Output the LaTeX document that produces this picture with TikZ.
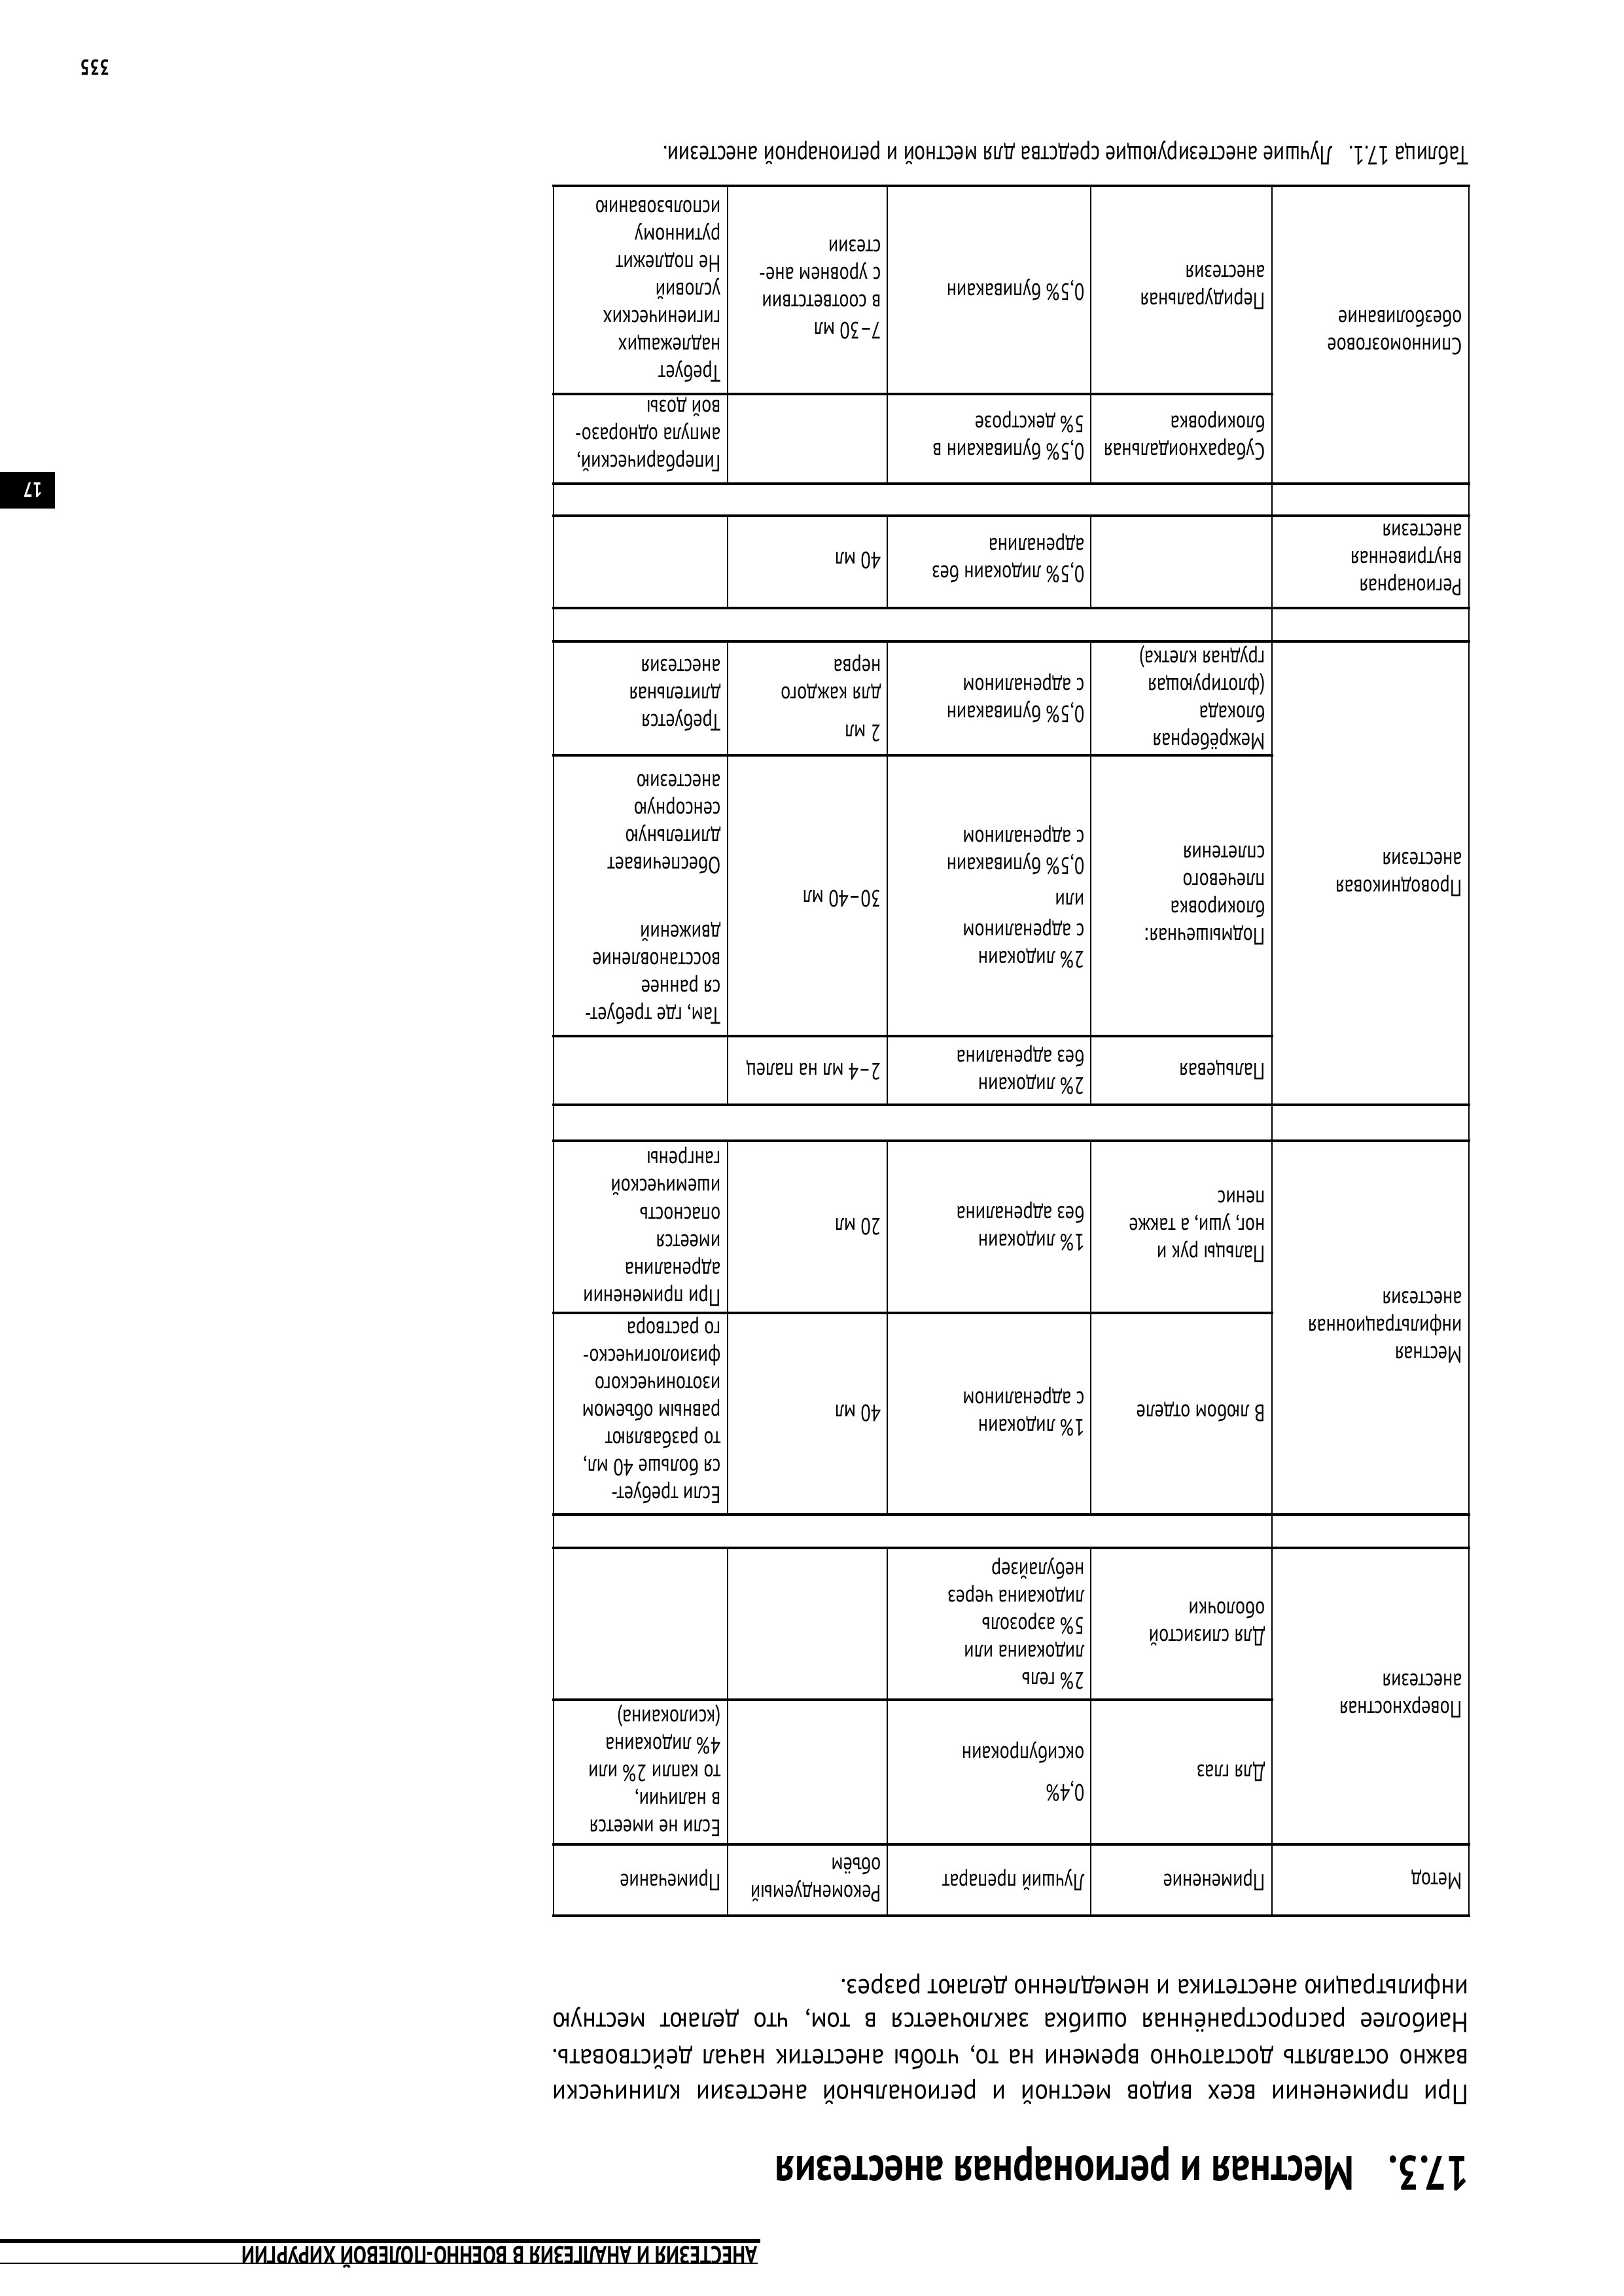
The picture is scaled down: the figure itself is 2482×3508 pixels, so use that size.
\documentclass[tikz,border=0pt]{standalone}
\usepackage{fontspec}
\setmainfont{PT Sans}[FakeStretch=0.78]
\newfontfamily\parafam{PT Sans}[FakeStretch=0.9]
\newfontfamily\headfam{PT Sans}[FakeStretch=0.8]
\newcommand\tbl{\fontsize{10.25pt}{11.95pt}\selectfont}
\newcommand\capfont{\fontsize{11.5pt}{13pt}\selectfont}
\newcommand\parafont{\parafam\fontsize{12.2pt}{15.4pt}\selectfont}
\newcommand\headfont{\headfam\fontsize{21pt}{24pt}\selectfont\bfseries}
\newcommand\runfont{\headfam\fontsize{10.7pt}{12pt}\selectfont\bfseries}
\begin{document}
\begin{tikzpicture}[x=0.01cm,y=-0.01cm,
  cell/.style={rotate=180,anchor=west,align=left,inner sep=0pt,font=\tbl},
  hline/.style={line width=0.035cm,line cap=rect},
  vline/.style={line width=0.022cm},
  pline/.style={rotate=180,anchor=mid west,inner sep=0pt,font=\parafont}]
\fill[white] (0,0) rectangle (2482,3508);
\path[use as bounding box] (0,0) rectangle (2482,3508);

% ---- table grid
\foreach \yy in {284,739,788,929,980,1688,1743,2314,2365,2818,2927}
  \draw[hline] (846,\yy) -- (2245,\yy);
\foreach \yy in {602,1154,1583,2006,2597}
  \draw[hline] (846,\yy) -- (1944,\yy);
\foreach \xx in {846,1944,2245}
  \draw[vline] (\xx,284) -- (\xx,2927);
\foreach \xx in {1112,1356,1667}
  \foreach \a/\b in {284/739,788/929,980/1688,1743/2314,2365/2927}
    \draw[vline] (\xx,\a) -- (\xx,\b);

% ---- header row
\node[cell] (h1) at (2235,2872) {Метод};
\node[cell] (h2) at (1934,2872) {Применение};
\node[cell] (h3) at (1658,2872) {Лучший препарат};
\node[cell] (h4) at (1347,2872) {Рекомендуемый\\объём};
\node[cell] (h5) at (1102,2872) {Примечание};

% ---- surface
\node[cell] (m1) at (2235,2591) {Поверхностная\\анестезия};
\node[cell] (a1) at (1934,2707) {Для глаз};
\node[cell] (b1) at (1658,2707) {0,4\%\\[0.16cm]оксибупрокаин};
\node[cell] (n1) at (1102,2705) {Если не имеется\\в наличии,\\то капли 2\% или\\4\% лидокаина\\(ксилокаина)};
\node[cell] (a2) at (1934,2481) {Для слизистой\\оболочки};
\node[cell] (b2) at (1658,2481) {2\% гель\\лидокаина или\\5\% аэрозоль\\лидокаина через\\небулайзер};

% ---- infiltration
\node[cell] (m2) at (2235,2028) {Местная\\инфильтрационная\\анестезия};
\node[cell] (a3) at (1934,2157) {В любом отделе};
\node[cell] (b3) at (1658,2157) {1\% лидокаин\\с адреналином};
\node[cell] (v3) at (1347,2159) {40 мл};
\node[cell] (n3) at (1102,2155) {Если требует-\\ся больше 40 мл,\\то разбавляют\\равным объемом\\изотонического\\физиологическо-\\го раствора};
\node[cell] (a4) at (1934,1874) {Пальцы рук и\\ног, уши, а также\\пенис};
\node[cell] (b4) at (1658,1874) {1\% лидокаин\\без адреналина};
\node[cell] (v4) at (1347,1874) {20 мл};
\node[cell] (n4) at (1102,1874) {При применении\\адреналина\\имеется\\опасность\\ишемической\\гангрены};

% ---- conduction
\node[cell] (m3) at (2235,1336) {Проводниковая\\анестезия};
\node[cell] (a5) at (1934,1635) {Пальцевая};
\node[cell] (b5) at (1658,1635) {2\% лидокаин\\без адреналина};
\node[cell] (v5) at (1347,1635) {2–4 мл на палец};
\node[cell] (a6) at (1934,1368) {Подмышечная:\\блокировка\\плечевого\\сплетения};
\node[cell] (b6) at (1658,1370) {2\% лидокаин\\с адреналином\\[0.05cm]или\\[0.12cm]0,5\% бупивакаин\\с адреналином};
\node[cell] (v6) at (1347,1373) {30–40 мл};
\node[cell] (n6) at (1102,1374) {Там, где требует-\\ся раннее\\восстановление\\движений\\[0.62cm]Обеспечивает\\длительную\\сенсорную\\анестезию};
\node[cell] (a7) at (1934,1067) {Межрёберная\\блокада\\(флотирующая\\грудная клетка)};
\node[cell] (b7) at (1658,1067) {0,5\% бупивакаин\\с адреналином};
\node[cell] (v7) at (1347,1067) {2 мл\\[0.16cm]для каждого\\нерва};
\node[cell] (n7) at (1102,1062) {Требуется\\длительная\\анестезия};

% ---- regional IV
\node[cell] (m4) at (2235,855) {Регионарная\\внутривенная\\анестезия};
\node[cell] (b8) at (1658,853) {0,5\% лидокаин без\\адреналина};
\node[cell] (v8) at (1347,856) {40 мл};

% ---- spinal
\node[cell] (m5) at (2235,508) {Спинномозговое\\обезболивание};
\node[cell] (a9) at (1934,666) {Субарахноидальная\\блокировка};
\node[cell] (b9) at (1658,666) {0,5\% бупивакаин в\\5\% декстрозе};
\node[cell] (n9) at (1102,664) {Гипербарический,\\ампула одноразо-\\вой дозы};
\node[cell] (a10) at (1934,439) {Перидуральная\\анестезия};
\node[cell] (b10) at (1658,443) {0,5\% бупивакаин};
\node[cell] (v10) at (1347,442) {7–30 мл\\в соответствии\\с уровнем ане-\\стезии};
\node[cell] (n10) at (1102,445) {Требует\\надлежащих\\гигиенических\\условий\\Не подлежит\\рутинному\\использованию};

% ---- caption
\node[cell,anchor=mid west,font=\capfont] (cap) at (2245,232) {Таблица 17.1.\hspace{0.25cm}Лучшие анестезирующие средства для местной и регионарной анестезии.};

% ---- paragraph
\node[pline] (p1) at (2245,3194) {\makebox[13.99cm][s]{При применении всех видов местной и региональной анестезии клинически}};
\node[pline] (p2) at (2245,3140) {\makebox[13.99cm][s]{важно оставлять достаточно времени на то, чтобы анестетик начал действовать.}};
\node[pline] (p3) at (2245,3084) {\makebox[13.99cm][s]{Наиболее распространённая ошибка заключается в том, что делают местную}};
\node[pline] (p4) at (2245,3033) {инфильтрацию анестетика и немедленно делают разрез.};

% ---- heading
\node[rotate=180,anchor=mid west,inner sep=0pt,font=\headfont] (hn) at (2245,3303) {17.3.};
\node[rotate=180,anchor=mid west,inner sep=0pt,font=\headfont] (ht) at (2070,3303) {Местная и регионарная анестезия};

% ---- running head
\draw[line width=0.065cm] (0,3424) -- (1162,3424);
\draw[line width=0.02cm] (0,3458) -- (1158,3458);
\node[rotate=180,anchor=mid west,inner sep=0pt,font=\runfont] (rh) at (1158,3441) {АНЕСТЕЗИЯ И АНАЛГЕЗИЯ В ВОЕННО-ПОЛЕВОЙ ХИРУРГИИ};

% ---- page number and tab
\node[rotate=180,inner sep=0pt,font=\headfam\fontsize{9.5pt}{11pt}\selectfont\bfseries] (pg) at (145,103) {335};
\fill[black] (0,721) rectangle (84,777);
\node[rotate=180,inner sep=0pt,text=white,font=\headfam\fontsize{9pt}{11pt}\selectfont\bfseries] (tab) at (50,749) {17};
\end{tikzpicture}
\end{document}
